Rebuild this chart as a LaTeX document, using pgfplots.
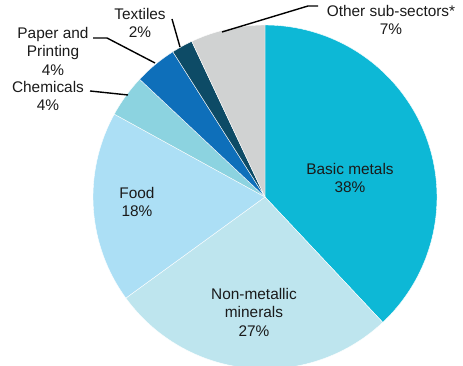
\documentclass[border=0pt]{standalone}
\usepackage{pgfplots}
\pgfplotsset{compat=1.18}
\usepackage{fontspec}
\setmainfont{Liberation Sans}
\definecolor{cBasic}{HTML}{0DB8D6}
\definecolor{cNonmet}{HTML}{BEE5EE}
\definecolor{cFood}{HTML}{ACDFF5}
\definecolor{cChem}{HTML}{8CD3E0}
\definecolor{cPaper}{HTML}{0E6FBA}
\definecolor{cTex}{HTML}{0D4B66}
\definecolor{cOther}{HTML}{D0D2D2}
\definecolor{txt}{HTML}{1A1A1A}
\tikzset{lbl/.style={font=\fontsize{15.4}{18.5}\selectfont, text=txt, align=center, inner sep=0pt}}
\begin{document}
\begin{tikzpicture}
\begin{axis}[width=463pt,height=366pt,scale only axis,
  xmin=0,xmax=463,ymin=0,ymax=366,hide axis]
\path (rel axis cs:0,0) rectangle (rel axis cs:1,1);
% slices: cumulative percentages, clockwise from top
\addplot[fill=cBasic,draw=white,line width=0.4pt,domain=0:38,samples=80] ({265+172*sin(3.6*x)},{169+172*cos(3.6*x)}) -- (axis cs:265,169) -- cycle;
\addplot[fill=cNonmet,draw=white,line width=0.4pt,domain=38:65,samples=60] ({265+172*sin(3.6*x)},{169+172*cos(3.6*x)}) -- (axis cs:265,169) -- cycle;
\addplot[fill=cFood,draw=white,line width=0.4pt,domain=65:83,samples=50] ({265+172*sin(3.6*x)},{169+172*cos(3.6*x)}) -- (axis cs:265,169) -- cycle;
\addplot[fill=cChem,draw=white,line width=0.4pt,domain=83:87,samples=20] ({265+172*sin(3.6*x)},{169+172*cos(3.6*x)}) -- (axis cs:265,169) -- cycle;
\addplot[fill=cPaper,draw=white,line width=0.4pt,domain=87:91,samples=20] ({265+172*sin(3.6*x)},{169+172*cos(3.6*x)}) -- (axis cs:265,169) -- cycle;
\addplot[fill=cTex,draw=white,line width=0.4pt,domain=91:93,samples=15] ({265+172*sin(3.6*x)},{169+172*cos(3.6*x)}) -- (axis cs:265,169) -- cycle;
\addplot[fill=cOther,draw=white,line width=0.4pt,domain=93:100,samples=25] ({265+172*sin(3.6*x)},{169+172*cos(3.6*x)}) -- (axis cs:265,169) -- cycle;
% leader lines
\draw[black, line width=1.4pt] (axis cs:222,334) -- (axis cs:308,360) -- (axis cs:318,360);
\draw[black, line width=1.4pt] (axis cs:172,347) -- (axis cs:180,319);
\draw[black, line width=1.4pt] (axis cs:93,328) -- (axis cs:107,328) -- (axis cs:155,303);
\draw[black, line width=1.4pt] (axis cs:90,275) -- (axis cs:128,271);
% labels
\node[lbl] at (axis cs:350,188) {Basic metals\\38\%};
\node[lbl] at (axis cs:254,54) {Non-metallic\\minerals\\27\%};
\node[lbl] at (axis cs:137,164) {Food\\18\%};
\node[lbl] at (axis cs:48,270) {Chemicals\\4\%};
\node[lbl] at (axis cs:53,315) {Paper and\\Printing\\4\%};
\node[lbl] at (axis cs:140,343) {Textiles\\2\%};
\node[lbl] at (axis cs:391,346) {Other sub-sectors*\\7\%};
\end{axis}
\end{tikzpicture}
\end{document}
